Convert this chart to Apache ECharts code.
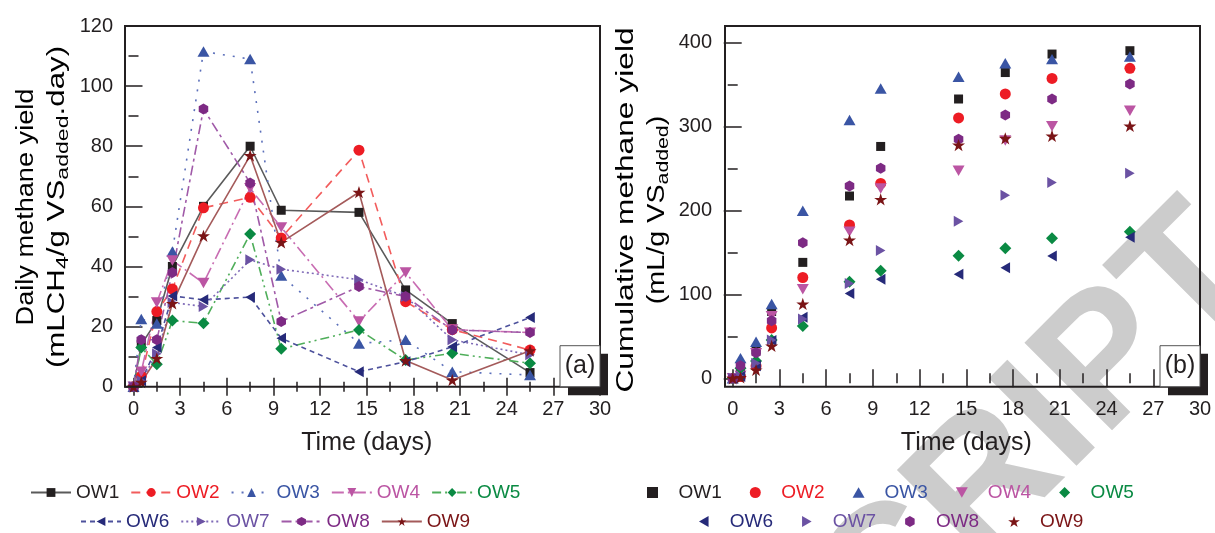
<!DOCTYPE html>
<html>
<head>
<meta charset="utf-8">
<script src="https://cdn.jsdelivr.net/npm/echarts@6/dist/echarts.min.js"></script>
<style>
  html, body { margin: 0; padding: 0; background: #ffffff; }
  #chart { width: 1215px; height: 533px; }
</style>
</head>
<body>
<div id="chart"></div>
<script>
// Sampling times (days)
const days = [0, 0.5, 1.5, 2.5, 4.5, 7.5, 9.5, 14.5, 17.5, 20.5, 25.5];

const seriesNames = ['OW1', 'OW2', 'OW3', 'OW4', 'OW5', 'OW6', 'OW7', 'OW8', 'OW9'];

// Daily methane yield (mL CH4 / g VS added . day)
const dailyOW1 = [0, 14, 22, 40, 60, 80, 58.7, 58, 32.2, 21, 4.7];
const dailyOW2 = [0, 3.5, 25, 32.5, 59.5, 63, 49.5, 78.7, 28.3, 19, 12.2];
const dailyOW3 = [0, 22.5, 21, 45, 111.5, 109, 37, 14.4, 15.6, 5, 3.9];
const dailyOW4 = [0, 5, 28, 42, 34.5, 66, 53, 21.7, 38, 19, 18];
const dailyOW5 = [0, 13, 7.5, 22, 21.1, 50.8, 12.6, 18.9, 8.9, 11.1, 7.8];
const dailyOW6 = [0, 2, 13, 30.2, 28.9, 29.8, 16.1, 5, 8.3, 13.3, 23];
const dailyOW7 = [0, 2, 11, 28, 26.7, 42.2, 39.1, 35.6, 30, 15.6, 10.6];
const dailyOW8 = [0, 15.6, 15.6, 38, 92.4, 67.8, 21.7, 33.3, 30, 18.9, 18];
const dailyOW9 = [0, 1.5, 9.4, 27.7, 50.2, 76.9, 48, 64.7, 8.7, 2.2, 12];

// Cumulative methane yield (mL / g VS added)
const cumOW1 = [0, 7, 34, 79.5, 138, 217, 276, 332.5, 364, 386, 390];
const cumOW2 = [0, 2, 14.5, 60, 120, 182.5, 232, 310, 338.5, 357, 369];
const cumOW3 = [0, 24, 43.6, 88.5, 199.5, 307.5, 345, 359, 375, 380, 383];
const cumOW4 = [0, 3, 30, 74, 106, 174.6, 226, 247, 283, 300, 318.6];
const cumOW5 = [0, 12, 20.6, 45.6, 62.3, 115, 128, 146, 154.7, 166.7, 174.5];
const cumOW6 = [0, 2, 15, 45, 72.6, 101, 118, 124, 131.7, 145.6, 167.8];
const cumOW7 = [0, 2, 17.8, 45.6, 70.6, 113, 152, 187, 218, 233, 244];
const cumOW8 = [0, 15, 30.5, 68.6, 161.5, 229, 250, 284.5, 313.5, 332.5, 350.4];
const cumOW9 = [0, 1, 9.9, 38.5, 88.5, 164.6, 213, 277.7, 285.7, 288.5, 300.4];

// Axis ticks
const timeTicks = [0, 3, 6, 9, 12, 15, 18, 21, 24, 27, 30];
const dailyTicks = [0, 20, 40, 60, 80, 100, 120];
const cumTicks = [0, 100, 200, 300, 400];

const dailyData = [dailyOW1, dailyOW2, dailyOW3, dailyOW4, dailyOW5, dailyOW6, dailyOW7, dailyOW8, dailyOW9];
const cumData = [cumOW1, cumOW2, cumOW3, cumOW4, cumOW5, cumOW6, cumOW7, cumOW8, cumOW9];

// Styling
const markerColors = ['#231f20', '#ed1c24', '#3a55a4', '#bb55a3', '#0a8a43', '#262a79', '#6b52a3', '#7d2a84', '#7a1416'];
const lineColors = ['#5a5a5a', '#f25c5c', '#5b6fba', '#c86cb2', '#4fae5a', '#4d519c', '#7f6ab7', '#a05aa8', '#a45a5a'];
const lineTypes = ['solid', [9, 6], [2, 8], [12, 4, 2, 4], [9, 4, 2, 4, 2, 4], [5, 4], [2, 3], [10, 4, 3, 4], 'solid'];
const SYM_SQUARE = 'path://M0,0L100,0L100,100L0,100Z';
const SYM_UP = 'path://M50,0L100,87L0,87Z';
const SYM_DIAMOND = 'path://M50,0L100,50L50,100L0,50Z';
const SYM_DOWN = 'path://M0,0L100,0L50,87Z';
const SYM_LEFT = 'path://M87,0L87,100L0,50Z';
const SYM_RIGHT = 'path://M0,0L87,50L0,100Z';
const SYM_HEX = 'path://M50,0L93.3,25L93.3,75L50,100L6.7,75L6.7,25Z';
const SYM_STAR = 'path://M50,0L61.8,35.1L98.9,35.1L68.8,56.7L80.2,91.9L50,70.2L19.8,91.9L31.2,56.7L1.1,35.1L38.2,35.1Z';
const symbols = [SYM_SQUARE, 'circle', SYM_UP, SYM_DOWN, SYM_DIAMOND, SYM_LEFT, SYM_RIGHT, SYM_HEX, SYM_STAR];
const symbolSizes = [9, 11, 12, 12, 12, 11, 11, 11, 13];

const FONT = "'Liberation Sans', Arial, Helvetica, sans-serif";
const INK = '#231f20';

function zip(xs, ys) { return xs.map((x, i) => [x, ys[i]]); }

function tickAxisCommon(extra) {
  return Object.assign({
    type: 'value',
    axisLine: { show: false },
    axisTick: { show: true, inside: true, length: 9, lineStyle: { color: INK, width: 1.5 } },
    minorTick: { show: true, splitNumber: 2, length: 5, lineStyle: { color: INK, width: 1.5 } },
    splitLine: { show: false },
    axisLabel: { show: false }
  }, extra);
}

const labelStyle = { show: true, fontSize: 20, color: INK, fontFamily: FONT };
const xNameStyle = { fontSize: 25, color: INK, fontFamily: FONT };

const xAxes = [
  // (a) bottom
  tickAxisCommon({ gridIndex: 0, position: 'bottom', min: timeTicks[0], max: timeTicks[timeTicks.length - 1], interval: 3,
    axisLabel: Object.assign({ margin: 13 }, labelStyle),
    name: 'Time (days)', nameLocation: 'middle', nameGap: 44, nameTextStyle: xNameStyle }),
  // (a) top
  tickAxisCommon({ gridIndex: 0, position: 'top', min: timeTicks[0], max: timeTicks[timeTicks.length - 1], interval: 3 }),
  // (b) bottom
  tickAxisCommon({ gridIndex: 1, position: 'bottom', offset: 8.4, min: timeTicks[0], max: timeTicks[timeTicks.length - 1], interval: 3,
    axisLabel: Object.assign({ margin: 13 }, labelStyle),
    name: 'Time (days)', nameLocation: 'middle', nameGap: 44, nameTextStyle: xNameStyle }),
  // (b) top
  tickAxisCommon({ gridIndex: 1, position: 'top', offset: 16.3, min: timeTicks[0], max: timeTicks[timeTicks.length - 1], interval: 3 })
];

const yAxes = [
  tickAxisCommon({ gridIndex: 0, position: 'left', offset: 8.5, min: dailyTicks[0], max: dailyTicks[dailyTicks.length - 1], interval: 20,
    axisLabel: Object.assign({ margin: 12 }, labelStyle) }),
  tickAxisCommon({ gridIndex: 0, position: 'right', min: dailyTicks[0], max: dailyTicks[dailyTicks.length - 1], interval: 20 }),
  tickAxisCommon({ gridIndex: 1, position: 'left', offset: 7.7, min: cumTicks[0], max: cumTicks[cumTicks.length - 1], interval: 100,
    axisLabel: Object.assign({ margin: 13 }, labelStyle) }),
  tickAxisCommon({ gridIndex: 1, position: 'right', min: cumTicks[0], max: cumTicks[cumTicks.length - 1], interval: 100 })
];

const series = [];
seriesNames.forEach((name, i) => {
  series.push({
    name: name,
    type: 'line',
    xAxisIndex: 0,
    yAxisIndex: 0,
    data: zip(days, dailyData[i]),
    symbol: symbols[i],
    symbolSize: symbolSizes[i],
    symbolKeepAspect: true,
    showAllSymbol: true,
    clip: false,
    itemStyle: { color: markerColors[i], opacity: 1 },
    lineStyle: { color: lineColors[i], width: 1.6, type: lineTypes[i] },
    emphasis: { disabled: true },
    animation: false,
    z: 3
  });
});
seriesNames.forEach((name, i) => {
  series.push({
    name: name,
    type: 'scatter',
    xAxisIndex: 2,
    yAxisIndex: 2,
    data: zip(days, cumData[i]),
    symbol: symbols[i],
    symbolSize: symbolSizes[i],
    symbolKeepAspect: true,
    clip: false,
    itemStyle: { color: markerColors[i], opacity: 1 },
    emphasis: { disabled: true },
    animation: false,
    z: 3
  });
});

function legendRow(names, left, top, withIcons, itemWidth, gap, textPad) {
  return {
    left: left, top: top, orient: 'horizontal', padding: 0,
    itemWidth: itemWidth, itemHeight: 11, itemGap: gap,
    selectedMode: false,
    symbolKeepAspect: true,
    textStyle: { fontSize: 19, fontFamily: FONT },
    data: names.map(n => {
      const i = seriesNames.indexOf(n);
      const item = { name: n, textStyle: { color: markerColors[i], fontSize: 19, fontFamily: FONT, padding: [0, 0, 0, textPad] } };
      if (withIcons) {
        item.icon = symbols[i];
        item.itemStyle = { color: markerColors[i] };
      }
      return item;
    })
  };
}

const legends = [
  legendRow(['OW1', 'OW2', 'OW3', 'OW4', 'OW5'], 30, 483, false, 40, 11, 0),
  legendRow(['OW6', 'OW7', 'OW8', 'OW9'], 80, 512, false, 40, 11, 0),
  legendRow(['OW1', 'OW2', 'OW3', 'OW4', 'OW5'], 647, 483, true, 12, 28, 15),
  legendRow(['OW6', 'OW7', 'OW8', 'OW9'], 699, 512, true, 12, 29, 15)
];

const titleRich = {
  n: { fontSize: 23, fontFamily: FONT, color: INK, lineHeight: 28 },
  s: { fontSize: 17, fontFamily: FONT, color: INK, lineHeight: 12, verticalAlign: 'bottom' }
};

function yTitle(x, y, text, stretch) {
  return { type: 'text', z: 13, silent: true, x: x, y: y, rotation: Math.PI / 2, scaleX: stretch,
    style: { text: text, rich: titleRich, align: 'center', verticalAlign: 'middle' } };
}

const graphics = [
  // watermark
  { type: 'text', x: 1040, y: 432, rotation: Math.PI / 4, z: 0, silent: true,
    style: { text: 'CRIPT', font: "bold 180px " + FONT, fill: '#cccccc', align: 'center', verticalAlign: 'middle' } },
  // plot frames
  { type: 'rect', z: 10, silent: true, shape: { x: 125, y: 26, width: 475, height: 360.7 },
    style: { fill: null, stroke: INK, lineWidth: 2 } },
  { type: 'rect', z: 10, silent: true, shape: { x: 725, y: 26, width: 475, height: 360.7 },
    style: { fill: null, stroke: INK, lineWidth: 2 } },
  // panel tags
  { type: 'rect', z: 11, silent: true, shape: { x: 568, y: 353.7, width: 40, height: 41.5 }, style: { fill: INK } },
  { type: 'rect', z: 12, silent: true, shape: { x: 560, y: 345.7, width: 40, height: 41 }, style: { fill: '#ffffff', stroke: '#555555', lineWidth: 1 } },
  { type: 'text', z: 13, silent: true, x: 580, y: 366.5,
    style: { text: '(a)', font: "25px " + FONT, fill: INK, align: 'center', verticalAlign: 'middle' } },
  { type: 'rect', z: 11, silent: true, shape: { x: 1168, y: 353.7, width: 40, height: 41.5 }, style: { fill: INK } },
  { type: 'rect', z: 12, silent: true, shape: { x: 1160, y: 345.7, width: 40, height: 41 }, style: { fill: '#ffffff', stroke: '#555555', lineWidth: 1 } },
  { type: 'text', z: 13, silent: true, x: 1180, y: 366.5,
    style: { text: '(b)', font: "25px " + FONT, fill: INK, align: 'center', verticalAlign: 'middle' } },
  // y axis titles
  yTitle(27, 207, '{n|Daily methane yield}', 1.18),
  yTitle(58, 207, '{n|(mLCH}{s|4}{n|/g VS}{s|added}{n|.day)}', 1.36),
  yTitle(627, 210, '{n|Cumulative methane yield}', 1.38),
  yTitle(658, 210, '{n|(mL/g VS}{s|added}{n|)}', 1.25)
];

const chart = echarts.init(document.getElementById('chart'), null, { renderer: 'canvas' });
chart.setOption({
  backgroundColor: '#ffffff',
  animation: false,
  textStyle: { fontFamily: FONT },
  grid: [
    { left: 133.5, right: 615, top: 26, bottom: 146.3, containLabel: false },
    { left: 732.7, right: 15, top: 42.3, bottom: 154.7, containLabel: false }
  ],
  xAxis: xAxes,
  yAxis: yAxes,
  legend: legends,
  series: series,
  graphic: graphics
});
</script>
</body>
</html>
